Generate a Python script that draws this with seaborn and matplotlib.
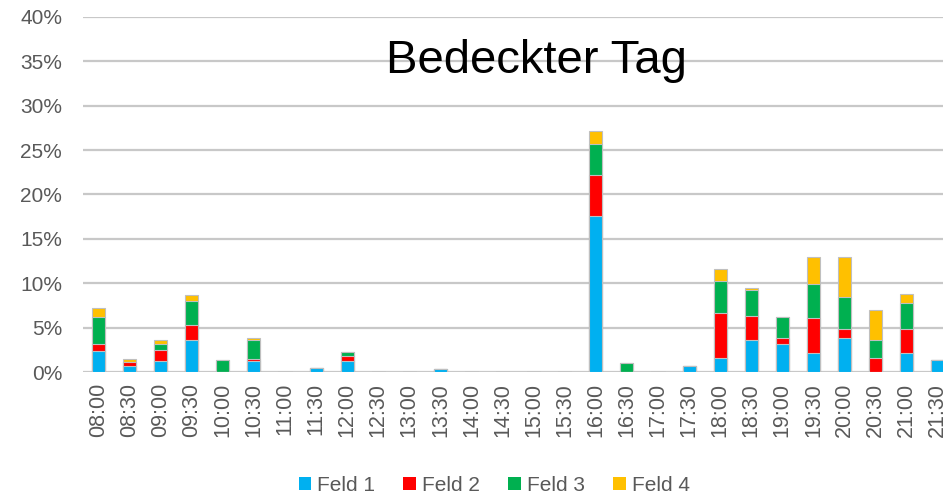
import matplotlib
matplotlib.use("Agg")
import matplotlib.pyplot as plt
import matplotlib.patches as mpatches
import numpy as np
import pandas as pd
import seaborn as sns
from matplotlib.ticker import FuncFormatter

times = [
    "08:00", "08:30", "09:00", "09:30", "10:00", "10:30", "11:00", "11:30",
    "12:00", "12:30", "13:00", "13:30", "14:00", "14:30", "15:00", "15:30",
    "16:00", "16:30", "17:00", "17:30", "18:00", "18:30", "19:00", "19:30",
    "20:00", "20:30", "21:00", "21:30",
]
feld1 = [2.4, 0.7, 1.2, 3.55, 0.0, 1.2, 0.0, 0.4, 1.2, 0.0, 0.0, 0.3, 0.0, 0.0,
         0.0, 0.0, 17.6, 0.0, 0.0, 0.65, 1.6, 3.55, 3.1, 2.1, 3.8, 0.0, 2.1, 1.4]
feld2 = [0.75, 0.45, 1.3, 1.75, 0.0, 0.25, 0.0, 0.0, 0.55, 0.0, 0.0, 0.0, 0.0, 0.0,
         0.0, 0.0, 4.6, 0.0, 0.0, 0.0, 5.1, 2.75, 0.7, 3.95, 1.0, 1.6, 2.75, 0.0]
feld3 = [3.05, 0.0, 0.7, 2.65, 1.4, 2.2, 0.0, 0.0, 0.45, 0.0, 0.0, 0.0, 0.0, 0.0,
         0.0, 0.0, 3.5, 1.05, 0.0, 0.0, 3.5, 2.95, 2.45, 3.9, 3.65, 1.95, 2.9, 0.0]
feld4 = [1.05, 0.3, 0.45, 0.75, 0.0, 0.2, 0.0, 0.0, 0.0, 0.0, 0.0, 0.0, 0.0, 0.0,
         0.0, 0.0, 1.4, 0.0, 0.0, 0.0, 1.4, 0.2, 0.0, 3.05, 4.5, 3.4, 1.05, 0.0]

series = ["Feld 1", "Feld 2", "Feld 3", "Feld 4"]
colors = ["#00B0F0", "#FF0000", "#00B050", "#FFC000"]

df = pd.DataFrame({"time": times, "Feld 1": feld1, "Feld 2": feld2,
                   "Feld 3": feld3, "Feld 4": feld4})
cum = df[series].cumsum(axis=1)

sns.set_theme(style="white")
plt.rcParams["font.family"] = ["Liberation Sans", "DejaVu Sans"]

fig = plt.figure(figsize=(9.43, 4.99), dpi=100)
ax = fig.add_axes([0.088, 0.2545, 0.912, 0.7115])

# stacked bars: draw cumulative totals from top layer down
for name, color in reversed(list(zip(series, colors))):
    sns.barplot(x=df["time"], y=cum[name], color=color, width=0.42,
                edgecolor="#BFBFBF", linewidth=0.8, saturation=1, ax=ax, zorder=3)

ax.set_ylim(0, 40)
ax.set_xlim(-0.5, 27.17)
ax.set_yticks(np.arange(0, 41, 5))
ax.yaxis.set_major_formatter(FuncFormatter(lambda v, p: f"{v:.0f}%"))
ax.grid(axis="y", color="#C8C8C8", linewidth=1.6, zorder=0)
ax.grid(axis="x", visible=False)
for s in ax.spines.values():
    s.set_visible(False)
ax.set_xlabel("")
ax.set_ylabel("")
ax.tick_params(axis="y", labelsize=15, colors="#595959", length=0, pad=15)
ax.tick_params(axis="x", labelsize=15.5, colors="#595959", length=0, pad=8,
               labelrotation=90)

ax.text(0.527, 0.842, "Bedeckter Tag", transform=ax.transAxes, ha="center",
        va="baseline", fontsize=34, color="black", zorder=5)

handles = [mpatches.Patch(facecolor=c, edgecolor="none", label=n)
           for n, c in zip(series, colors)]
fig.legend(handles=handles, loc="center", bbox_to_anchor=(0.524, 0.028),
           ncol=4, frameon=False, fontsize=15, handlelength=0.6,
           handleheight=0.6, handletextpad=0.3, columnspacing=1.35,
           labelcolor="#595959")

fig.savefig("out.png", dpi=100)
